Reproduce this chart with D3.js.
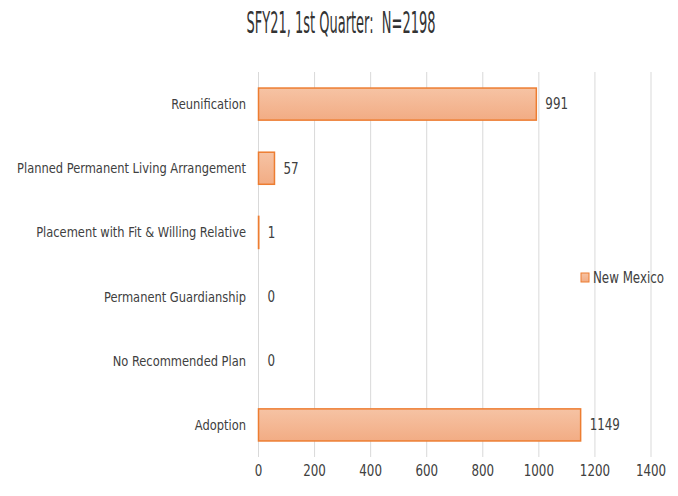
<!DOCTYPE html>
<html><head><meta charset="utf-8">
<script src="https://cdn.jsdelivr.net/npm/d3@7"></script>
<style>
body{margin:0;background:#fff;}
text{font-family:"DejaVu Sans Condensed","DejaVu Sans",sans-serif;white-space:pre;}
</style></head>
<body><svg id="c" width="678" height="496"></svg>
<script>
const categories = ["Reunification","Planned Permanent Living Arrangement","Placement with Fit & Willing Relative","Permanent Guardianship","No Recommended Plan","Adoption"];
const values = [991,57,1,0,0,1149];
const seriesName = "New Mexico";
const tickValues = [0,200,400,600,800,1000,1200,1400];
const title = "SFY21, 1st Quarter:  N=2198";

const svg = d3.select("#c");
const m = {left:258.5, right:651, top:72, bottom:457};
const x = d3.scaleLinear().domain([0,1400]).range([m.left,m.right]);
const y = d3.scaleBand().domain(categories).range([m.top,m.bottom]).paddingInner(0.5).paddingOuter(0.25);
const SX = 0.88;
const place = (px,py)=>`translate(${px},${py}) scale(${SX},1)`;

const defs = svg.append("defs");
const g = defs.append("linearGradient").attr("id","bg").attr("x1",0).attr("y1",0).attr("x2",0).attr("y2",1);
g.append("stop").attr("offset","0%").attr("stop-color","#F6C3A4");
g.append("stop").attr("offset","100%").attr("stop-color","#F2AC84");

svg.append("text").attr("x",341).attr("y",33).attr("text-anchor","middle")
  .attr("font-size",30).attr("fill","#333")
  .attr("textLength",189).attr("lengthAdjust","spacingAndGlyphs").text(title);

// gridlines
svg.append("g").selectAll("line").data(tickValues).join("line")
  .attr("x1",d=>x(d)).attr("x2",d=>x(d)).attr("y1",m.top).attr("y2",m.bottom)
  .attr("stroke","#d9d9d9").attr("stroke-width",1);

// x axis labels
svg.append("g").selectAll("text").data(tickValues).join("text")
  .attr("transform",d=>place(x(d),476)).attr("text-anchor","middle")
  .attr("font-size",15).attr("fill","#404040").text(d=>d);

// category labels
svg.append("g").selectAll("text").data(categories).join("text")
  .attr("transform",d=>place(246,y(d)+y.bandwidth()/2)).attr("dy","0.35em")
  .attr("text-anchor","end").attr("font-size",14.5).attr("fill","#404040").text(d=>d);

// bars
const data = categories.map((c,i)=>({c,v:values[i]}));
svg.append("g").selectAll("rect").data(data.filter(d=>d.v>0)).join("rect")
  .attr("x",x(0)).attr("y",d=>y(d.c)).attr("width",d=>x(d.v)-x(0)).attr("height",y.bandwidth())
  .attr("fill","url(#bg)").attr("stroke","#ED7D31").attr("stroke-width",1.5);

// value labels
svg.append("g").selectAll("text").data(data).join("text")
  .attr("transform",d=>place(x(d.v)+9,y(d.c)+y.bandwidth()/2)).attr("dy","0.35em")
  .attr("font-size",15).attr("fill","#404040").text(d=>d.v);

// legend
svg.append("rect").attr("x",581).attr("y",273).attr("width",8).attr("height",9)
  .attr("fill","url(#bg)").attr("stroke","#ED7D31").attr("stroke-width",1);
svg.append("text").attr("transform",place(593,278)).attr("dy","0.35em").attr("font-size",15)
  .attr("fill","#404040").text(seriesName);
</script></body></html>
